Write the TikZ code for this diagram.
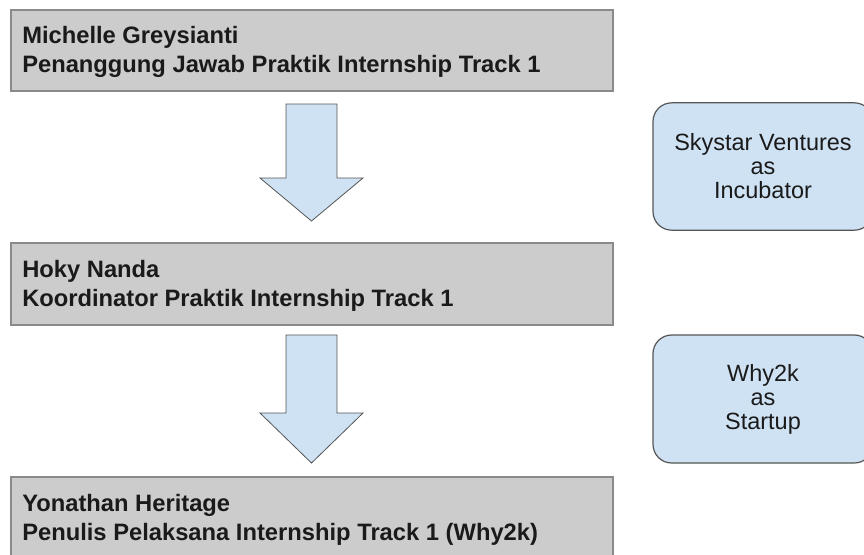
\documentclass[tikz,border=0pt]{standalone}
\usepackage{fontspec}
\setmainfont{Liberation Sans}
\definecolor{boxgrey}{HTML}{CCCCCC}
\definecolor{boxline}{HTML}{8A8A8A}
\definecolor{lightblue}{HTML}{CFE2F3}
\definecolor{darkline}{HTML}{555555}
\definecolor{txt}{HTML}{1A1A1A}
\tikzset{
  greybox/.style={draw=boxline, fill=boxgrey, line width=1.5pt, rectangle, anchor=north west,
    minimum width=451.5pt, minimum height=61pt, inner sep=0pt},
  boxtext/.style={anchor=base west, align=left, inner sep=0pt, text=txt,
    font=\bfseries\fontsize{17.8}{21.75}\selectfont},
  rolebox/.style={draw=darkline, fill=lightblue, line width=0.9pt, rounded corners=14pt,
    minimum width=165pt, minimum height=95.5pt, inner sep=0pt, align=center, text=txt,
    font=\fontsize{17.6}{18}\selectfont},
  blockarrow/.style={draw=darkline, fill=lightblue, line width=0.6pt, line join=miter}
}
\begin{document}
\begin{tikzpicture}[x=0.75pt,y=-0.75pt]
\useasboundingbox (0,0) rectangle (864,554);
\clip (0,0) rectangle (864,554);
% grey boxes
\node[greybox] (b1) at (10,9) {};
\node[greybox, minimum height=61.5pt] (b2) at (10,241.5) {};
\node[greybox, minimum height=61.5pt] (b3) at (10,476) {};
\node[boxtext] (t1) at (22,72) {Michelle Greysianti\\Penanggung Jawab Praktik Internship Track 1};
\node[boxtext] (t2) at (22,306) {Hoky Nanda\\Koordinator Praktik Internship Track 1};
\node[boxtext] (t3) at (22,540) {Yonathan Heritage\\Penulis Pelaksana Internship Track 1 (Why2k)};
% block arrows
\draw[blockarrow] (286,104) -- (337,104) -- (337,178) -- (363,178) -- (311.5,221) -- (260,178) -- (286,178) -- cycle;
\draw[blockarrow] (286,335) -- (337,335) -- (337,413) -- (363,413) -- (311.5,463) -- (260,413) -- (286,413) -- cycle;
% role boxes
\node[rolebox] (r1) at (763,166.5) {Skystar Ventures\\as\\Incubator};
\node[rolebox, minimum height=96pt] (r2) at (763,399) {Why2k\\as\\Startup};
\end{tikzpicture}
\end{document}
